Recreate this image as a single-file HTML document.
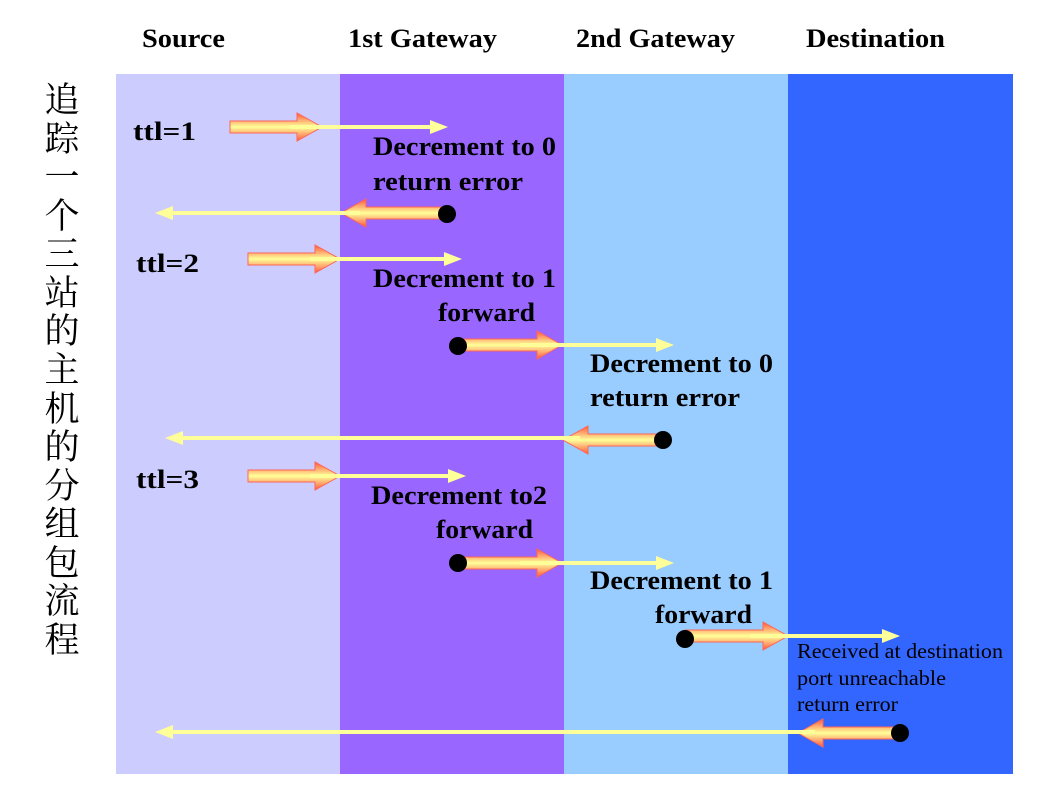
<!DOCTYPE html>
<html><head><meta charset="utf-8"><style>
body{margin:0;background:#fff;}
svg{display:block}
.h{font-family:"Liberation Serif",serif;font-weight:bold;font-size:26px;fill:#000}
.t{font-family:"Liberation Serif",serif;font-size:21px;fill:#000}
.c{font-family:"Liberation Serif","Noto Serif CJK SC","Noto Sans CJK SC",serif;font-size:35px;fill:#000}
</style></head><body>
<svg width="1041" height="790" viewBox="0 0 1041 790">
<defs>
<linearGradient id="g" x1="0" y1="0" x2="0" y2="1">
<stop offset="0" stop-color="#ff5544"/><stop offset="0.5" stop-color="#ffff99"/><stop offset="1" stop-color="#ff5544"/>
</linearGradient>
</defs>
<rect x="116" y="74" width="224" height="700" fill="#ccccff"/>
<rect x="340" y="74" width="224" height="700" fill="#9966ff"/>
<rect x="564" y="74" width="224" height="700" fill="#99ccff"/>
<rect x="788" y="74" width="225" height="700" fill="#3366ff"/>
<g class="h">
<text x="142" y="47" textLength="83" lengthAdjust="spacingAndGlyphs">Source</text>
<text x="348" y="47" textLength="149" lengthAdjust="spacingAndGlyphs">1st Gateway</text>
<text x="576" y="47" textLength="159" lengthAdjust="spacingAndGlyphs">2nd Gateway</text>
<text x="806" y="47" textLength="139" lengthAdjust="spacingAndGlyphs">Destination</text>
<text x="133" y="140" textLength="63" lengthAdjust="spacingAndGlyphs">ttl=1</text>
<text x="136" y="272" textLength="63" lengthAdjust="spacingAndGlyphs">ttl=2</text>
<text x="136" y="488" textLength="63" lengthAdjust="spacingAndGlyphs">ttl=3</text>
<text x="373" y="155" textLength="183" lengthAdjust="spacingAndGlyphs">Decrement to 0</text>
<text x="373" y="190" textLength="150" lengthAdjust="spacingAndGlyphs">return error</text>
<text x="373" y="287" textLength="183" lengthAdjust="spacingAndGlyphs">Decrement to 1</text>
<text x="438" y="321" textLength="97" lengthAdjust="spacingAndGlyphs">forward</text>
<text x="590" y="372" textLength="183" lengthAdjust="spacingAndGlyphs">Decrement to 0</text>
<text x="590" y="406" textLength="150" lengthAdjust="spacingAndGlyphs">return error</text>
<text x="371" y="504" textLength="176" lengthAdjust="spacingAndGlyphs">Decrement to2</text>
<text x="436" y="538" textLength="97" lengthAdjust="spacingAndGlyphs">forward</text>
<text x="590" y="589" textLength="183" lengthAdjust="spacingAndGlyphs">Decrement to 1</text>
<text x="655" y="623" textLength="97" lengthAdjust="spacingAndGlyphs">forward</text>
</g>
<g class="t">
<text x="797" y="658" textLength="206" lengthAdjust="spacingAndGlyphs">Received at destination</text>
<text x="797" y="685" textLength="149" lengthAdjust="spacingAndGlyphs">port unreachable</text>
<text x="797" y="711" textLength="101" lengthAdjust="spacingAndGlyphs">return error</text>
</g>
<g class="c" text-anchor="middle">
<text x="62" y="112">追</text><text x="62" y="151">踪</text><text x="62" y="189">一</text><text x="62" y="228">个</text><text x="62" y="266">三</text><text x="62" y="305">站</text><text x="62" y="343">的</text><text x="62" y="382">主</text><text x="62" y="421">机</text><text x="62" y="459">的</text><text x="62" y="498">分</text><text x="62" y="536">组</text><text x="62" y="575">包</text><text x="62" y="613">流</text><text x="62" y="652">程</text>
</g>
<g fill="url(#g)" stroke="#ff6655" stroke-width="1">
<polygon points="230,121 297,121 297,113 322,127 297,141 297,133 230,133"/>
<polygon points="248,253 315,253 315,245 340,259 315,273 315,265 248,265"/>
<polygon points="458,339 537,339 537,331 562,345 537,359 537,351 458,351"/>
<polygon points="248,470 315,470 315,462 340,476 315,490 315,482 248,482"/>
<polygon points="458,557 537,557 537,549 562,563 537,577 537,569 458,569"/>
<polygon points="685,630 763,630 763,622 788,636 763,650 763,642 685,642"/>
<polygon points="445,207 366,207 366,199 341,213 366,227 366,219 445,219"/>
<polygon points="663,434 588,434 588,426 563,440 588,454 588,446 663,446"/>
<polygon points="900,727 823,727 823,719 798,733 823,747 823,739 900,739"/>
</g>
<g stroke="#ffff99" stroke-width="4" fill="none">
<line x1="290" y1="127" x2="432" y2="127"/>
<line x1="310" y1="259" x2="446" y2="259"/>
<line x1="520" y1="345" x2="658" y2="345"/>
<line x1="310" y1="476" x2="450" y2="476"/>
<line x1="520" y1="563" x2="658" y2="563"/>
<line x1="750" y1="636" x2="884" y2="636"/>
<line x1="171" y1="213" x2="360" y2="213"/>
<line x1="181" y1="438" x2="580" y2="438"/>
<line x1="171" y1="732" x2="815" y2="732"/>
</g>
<g fill="#ffff99">
<polygon points="430,120 448,127 430,134"/>
<polygon points="444,252 462,259 444,266"/>
<polygon points="656,338 674,345 656,352"/>
<polygon points="448,469 466,476 448,483"/>
<polygon points="656,556 674,563 656,570"/>
<polygon points="882,629 900,636 882,643"/>
<polygon points="173,206 155,213 173,220"/>
<polygon points="183,431 165,438 183,445"/>
<polygon points="173,725 155,732 173,739"/>
</g>
<g fill="#000">
<circle cx="447" cy="214" r="9"/>
<circle cx="458" cy="346" r="9"/>
<circle cx="663" cy="440" r="9"/>
<circle cx="458" cy="563" r="9"/>
<circle cx="685" cy="639" r="9"/>
<circle cx="900" cy="733" r="9"/>
</g>
</svg>
</body></html>
